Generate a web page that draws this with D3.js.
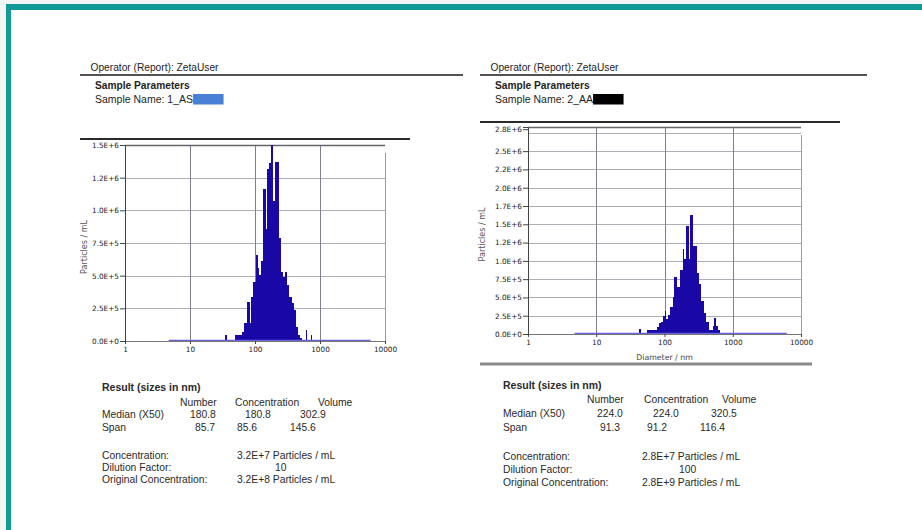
<!DOCTYPE html>
<html>
<head>
<meta charset="utf-8">
<script src="https://cdn.jsdelivr.net/npm/d3@7"></script>
<style>
  html, body { margin: 0; padding: 0; background: #f4f6f5; }
  svg { display: block; font-family: "Liberation Sans", Arial, sans-serif; }
  .tick text { font-family: "DejaVu Sans", sans-serif; font-size: 7.3px; fill: #222; }
  .tick line { stroke: #444; }
</style>
</head>
<body>
<svg id="chart" width="922" height="530"></svg>
<script>
/* ============ DATA ============ */
const sampleNames = ["1_AS", "2_AA"];
const redactColors = ["#4a7fd6", "#000000"];

// sample 1 : bin edges (nm) + particles / mL
const edges1  = [34, 37, 49, 62, 68, 74.5, 83, 88, 94, 102, 110, 115, 125, 134, 146, 155, 164, 174, 189, 203,
                 234, 248, 270, 290, 307, 333, 366, 398, 423, 453, 492, 535, 601, 638, 718, 762];
const counts1 = [4.6e4, 0, 4.6e4, 7.1e4, 1.4e5, 2.96e5, 1.4e5, 3.4e5, 4.5e5, 6.6e5,
                 5.6e5, 5.05e5, 6.1e5, 1.16e6, 8.6e5, 1.32e6, 1.36e6, 1.5e6, 1.07e6, 1.37e6,
                 7.9e5, 5.3e5, 4.9e5, 5.3e5, 4.3e5, 3.4e5, 2.9e5, 2.4e5, 1.1e5, 4.6e4,
                 2.0e4, 0, 8.4e4, 0, 4.6e4];

// sample 2
const edges2  = [43, 45.5, 55, 77.4, 82.8, 88.5, 94.8, 100, 106, 113, 121, 131, 140, 150, 170, 184, 194.5, 208, 225, 240,
                 258, 299, 319, 345, 373, 408, 452, 506, 535, 573, 612, 655];
const counts2 = [6.5e4, 0, 6.0e4, 1.0e5, 1.57e5, 1.7e5, 2.4e5, 3.2e5, 2.1e5, 2.6e5,
                 3.7e5, 5.0e5, 7.8e5, 6.4e5, 8.8e5, 1.16e6, 1.03e6, 1.47e6, 1.02e6, 1.63e6,
                 1.2e6, 8.4e5, 6.8e5, 4.5e5, 2.9e5, 1.6e5, 5.5e4, 1.1e5, 2.2e5, 1.1e5, 5.5e4];

// measured range line (nm)
const rangeLine1 = [4.7, 6000];
const rangeLine2 = [4.8, 6200];

const xTickVals   = [1, 10, 100, 1000, 10000];
const xTickLabels = ["1", "10", "100", "1000", "10000"];

const yTickVals1   = [0, 2.5e5, 5e5, 7.5e5, 1e6, 1.25e6, 1.5e6];
const yTickLabels1 = ["0.0E+0", "2.5E+5", "5.0E+5", "7.5E+5", "1.0E+6", "1.2E+6", "1.5E+6"];
const yGrid1       = [2.5e5, 5e5, 7.5e5, 1e6, 1.25e6];
const yMax1        = 1.5e6;

const yTickVals2   = [0, 2.5e5, 5e5, 7.5e5, 1e6, 1.25e6, 1.5e6, 1.75e6, 2e6, 2.25e6, 2.5e6, 2.8e6];
const yTickLabels2 = ["0.0E+0", "2.5E+5", "5.0E+5", "7.5E+5", "1.0E+6", "1.2E+6", "1.5E+6", "1.7E+6",
                      "2.0E+6", "2.2E+6", "2.5E+6", "2.8E+6"];
const yGrid2       = [2.5e5, 5e5, 7.5e5, 1e6, 1.25e6, 1.5e6, 1.75e6, 2e6, 2.25e6, 2.5e6, 2.75e6];
const yMax2        = 2.83e6;

const resultCols     = ["Number", "Concentration", "Volume"];
const medianVals     = [["180.8", "180.8", "302.9"], ["224.0", "224.0", "320.5"]];
const spanVals       = [["85.7", "85.6", "145.6"], ["91.3", "91.2", "116.4"]];
const concentration  = ["3.2E+7 Particles / mL", "2.8E+7 Particles / mL"];
const dilution       = ["10", "100"];
const originalConc   = ["3.2E+8 Particles / mL", "2.8E+9 Particles / mL"];

/* ============ DRAW ============ */
const svg = d3.select("#chart");

// page + teal frame
svg.append("rect").attr("x", 6).attr("y", 4).attr("width", 930).attr("height", 540)
  .attr("fill", "#fff");
svg.append("rect").attr("x", 6).attr("y", 4).attr("width", 930).attr("height", 6).attr("fill", "#119b98");
svg.append("rect").attr("x", 6).attr("y", 4).attr("width", 5).attr("height", 540).attr("fill", "#119b98");

function hline(x1, x2, y, w, c) {
  svg.append("line").attr("x1", x1).attr("x2", x2).attr("y1", y).attr("y2", y)
    .attr("stroke", c).attr("stroke-width", w);
}
function txt(x, y, s, size, weight, color) {
  return svg.append("text").attr("x", x).attr("y", y).text(s)
    .attr("font-size", size).attr("font-weight", weight || "normal")
    .attr("fill", color || "#1e1e1e");
}

// header block for each panel
function header(i, ox, lineTo1, lineTo2, line2y) {
  txt(ox + 0.5, 70.5, "Operator (Report): ZetaUser", 10.2);
  hline(ox - 10, lineTo1, 75, 1.6, "#1a1a1a");
  txt(ox + 5, 88.5, "Sample Parameters", 10.2, "bold");
  const t = txt(ox + 5, 102.5, "Sample Name: " + sampleNames[i], 10.5);
  const bb = t.node().getBBox();
  svg.append("rect").attr("x", bb.x + bb.width).attr("y", 94).attr("width", 30.5).attr("height", 10.5)
    .attr("fill", redactColors[i]);
  hline(ox - 10, lineTo2, line2y, 2.2, "#2a2a2a");
}
header(0, 90, 463, 410, 139);
header(1, 490, 867, 840, 122);

// histogram panel
function histo(o) {
  const x = d3.scaleLog().domain([1, 10000]).range([o.x0, o.x1]);
  const y = d3.scaleLinear().domain([0, o.yMax]).range([o.yb, o.yt]);
  const g = svg.append("g");

  // grid
  g.selectAll("line.hg").data(o.grid).join("line")
    .attr("x1", o.x0).attr("x2", o.x1)
    .attr("y1", d => Math.round(y(d)) + 0.5).attr("y2", d => Math.round(y(d)) + 0.5)
    .attr("stroke", "#adadb5").attr("stroke-width", 1);
  g.selectAll("line.vg").data([10, 100, 1000]).join("line")
    .attr("x1", d => Math.round(x(d)) + 0.5).attr("x2", d => Math.round(x(d)) + 0.5)
    .attr("y1", o.yt).attr("y2", o.yb)
    .attr("stroke", "#80808f").attr("stroke-width", 1);
  // right + top border
  g.append("line").attr("x1", o.x1 + 0.5).attr("x2", o.x1 + 0.5).attr("y1", o.yt + 8).attr("y2", o.yb)
    .attr("stroke", "#9a9aa4");
  g.append("line").attr("x1", o.x0).attr("x2", o.x1).attr("y1", o.yt + 0.5).attr("y2", o.yt + 0.5)
    .attr("stroke", "#666").attr("stroke-width", 1.4);

  // bars
  const bins = o.counts.map((c, i) => ({ lo: o.edges[i], hi: o.edges[i + 1], v: c })).filter(d => d.v > 0);
  g.selectAll("rect.bar").data(bins).join("rect")
    .attr("x", d => x(d.lo)).attr("width", d => x(d.hi) - x(d.lo))
    .attr("y", d => y(d.v)).attr("height", d => y(0) - y(d.v))
    .attr("fill", "#1a08a6").attr("shape-rendering", "crispEdges");

  // measurement range line
  g.append("line").attr("x1", x(o.range[0])).attr("x2", x(o.range[1]))
    .attr("y1", y(0) - 0.5).attr("y2", y(0) - 0.5)
    .attr("stroke", "#6a62d8").attr("stroke-width", 1.6);

  // axes
  const ax = g.append("g").attr("transform", `translate(${o.x0},0)`)
    .call(d3.axisLeft(y).tickValues(o.yTicks).tickFormat((d, i) => o.yLabels[i]).tickSize(5).tickPadding(1));
  ax.select(".domain").attr("stroke", "#444");
  const bx = g.append("g").attr("transform", `translate(0,${o.yb})`)
    .call(d3.axisBottom(x).tickValues(xTickVals).tickFormat((d, i) => xTickLabels[i]).tickSize(3).tickPadding(3));
  bx.select(".domain").attr("stroke", "#777");

  // axis titles
  g.append("text").attr("transform", `translate(${o.yLabelX},${(o.yt + o.yb) / 2 + 4}) rotate(-90)`)
    .attr("text-anchor", "middle").attr("font-family", "DejaVu Sans, sans-serif")
    .attr("font-size", 8).attr("fill", "#555").text("Particles / mL");
  if (o.xTitle) {
    g.append("text").attr("x", (o.x0 + o.x1) / 2).attr("y", o.yb + 26)
      .attr("text-anchor", "middle").attr("font-family", "DejaVu Sans, sans-serif")
      .attr("font-size", 7.8).attr("fill", "#444").text("Diameter / nm");
  }
}

histo({ x0: 125, x1: 385, yt: 145, yb: 341, yMax: yMax1, edges: edges1, counts: counts1, range: rangeLine1,
        yTicks: yTickVals1, yLabels: yTickLabels1, grid: yGrid1, yLabelX: 87, xTitle: false });
histo({ x0: 528, x1: 801, yt: 127, yb: 334, yMax: yMax2, edges: edges2, counts: counts2, range: rangeLine2,
        yTicks: yTickVals2, yLabels: yTickLabels2, grid: yGrid2, yLabelX: 485, xTitle: true });

hline(480, 812, 364, 3, "#8a8a8a");

// results block
function results(i, L) {
  const c = "#2a2a2a";
  txt(L.lx, L.by[0], "Result (sizes in nm)", 10.5, "bold", c);
  resultCols.forEach((s, k) => txt(L.hx[k], L.by[1], s, 10.3, "normal", c));
  txt(L.lx, L.by[2], "Median (X50)", 10.3, "normal", c);
  medianVals[i].forEach((s, k) => txt(L.mx[k], L.by[2], s, 10.3, "normal", c));
  txt(L.lx, L.by[3], "Span", 10.3, "normal", c);
  spanVals[i].forEach((s, k) => txt(L.sx[k], L.by[3], s, 10.3, "normal", c));
  txt(L.lx, L.by[4], "Concentration:", 10.3, "normal", c);
  txt(L.vx, L.by[4], concentration[i], 10.3, "normal", c);
  txt(L.lx, L.by[5], "Dilution Factor:", 10.3, "normal", c);
  txt(L.dx, L.by[5], dilution[i], 10.3, "normal", c);
  txt(L.lx, L.by[6], "Original Concentration:", 10.3, "normal", c);
  txt(L.vx, L.by[6], originalConc[i], 10.3, "normal", c);
}
results(0, { lx: 102, by: [391, 405.5, 418, 431, 459, 471, 482.5],
             hx: [180, 235, 318], mx: [190, 245, 300], sx: [195, 237, 290], vx: 237, dx: 275 });
results(1, { lx: 503, by: [389, 403, 417, 431, 460, 473, 486],
             hx: [587, 644, 722], mx: [597, 653, 711], sx: [600, 647, 700], vx: 642, dx: 679 });
</script>
</body>
</html>
